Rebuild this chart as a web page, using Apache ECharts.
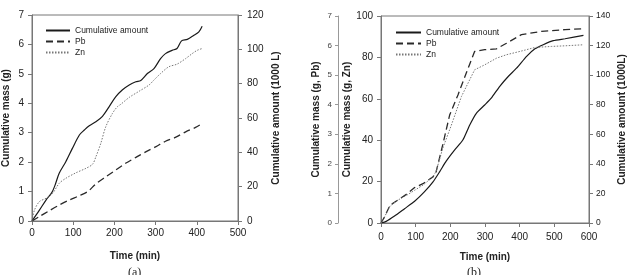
<!DOCTYPE html>
<html><head><meta charset="utf-8">
<script src="https://cdn.jsdelivr.net/npm/echarts@6/dist/echarts.min.js"></script>
<style>html,body{margin:0;padding:0;background:#fff}#c{width:632px;height:275px}</style>
</head><body><div id="c"></div>
<script>
// Panel (a)
const aAmountTime = [0,18,34,48,56,66,82,98,115,127,139,155,171,187,203,219,236,252,264,280,296,312,324,340,352,363,377,393,405,413];
const aAmountVal  = [0,6.3,12.2,16.5,20.9,27.8,34.5,42.3,50.1,53.0,55.5,57.8,61.0,66.5,72.3,76.3,79.2,81.1,81.9,85.9,88.8,94.6,97.5,99.4,100.5,104.9,105.8,108.2,110.2,113.5];
const aPbTime = [0,18,42,66,90,115,135,155,179,203,227,252,276,300,324,348,373,397,413];
const aPbVal  = [0,0.15,0.35,0.54,0.71,0.86,1.0,1.26,1.50,1.73,1.96,2.16,2.35,2.52,2.71,2.84,3.03,3.18,3.31];
const aZnTime = [0,6,18,34,50,66,82,107,131,147,155,167,179,195,207,215,236,260,284,296,312,332,352,373,389,401,413];
const aZnVal  = [0,0.37,0.66,0.77,0.94,1.28,1.45,1.64,1.79,1.93,2.18,2.64,3.2,3.65,3.88,3.96,4.20,4.41,4.62,4.79,5.01,5.24,5.33,5.52,5.69,5.80,5.86];
// Panel (b)
const bAmountTime = [0,15,39,68,97,125,150,169,188,212,236,256,275,299,318,342,367,391,420,444,468,497,531,584];
const bAmountVal  = [0,1.1,4.7,9.7,14.7,21.0,27.8,34.6,41.8,49.3,56.1,66.3,74.2,79.8,84.4,92.3,99.1,104.7,112.7,117.8,120.6,123.3,124.6,126.9];
const bPbTime = [0,10,26,48,77,97,121,150,159,178,198,222,246,270,299,333,362,405,463,531,584];
const bPbVal  = [0,0.20,0.60,0.77,1.00,1.20,1.33,1.56,1.73,2.64,3.65,4.33,5.07,5.80,5.86,5.89,6.08,6.37,6.48,6.54,6.57];
const bZnTime = [0,10,26,48,77,97,121,150,159,178,203,232,270,299,333,362,401,444,492,531,584];
const bZnVal  = [0,2.9,8.2,11.0,13.7,15.8,18.3,22.3,25.0,36.0,47.3,61.1,74.0,76.4,79.6,81.3,82.9,84.8,85.3,85.6,86.1];
const seriesNames = ['Cumulative amount','Pb','Zn'];

const zip = (t, v) => t.map((x, i) => [x, v[i]]);
const FONT = '"Liberation Sans", Arial, sans-serif';
const axisCol = '#777';
const labelStyle = (fs) => ({fontFamily: FONT, fontSize: fs, color: '#222'});
const nameStyle = {fontFamily: FONT, fontSize: 10, fontWeight: 'bold', color: '#222'};

function yAx(grid, opts) {
  return Object.assign({
    type: 'value', gridIndex: grid, splitLine: {show: false},
    axisLine: {show: true, lineStyle: {color: axisCol, width: 1}},
    axisTick: {show: true, length: 4, inside: false, lineStyle: {color: axisCol}},
    nameLocation: 'middle', nameTextStyle: nameStyle
  }, opts);
}
function xAx(grid, opts) {
  return Object.assign({
    type: 'value', gridIndex: grid, splitLine: {show: false},
    axisLine: {show: true, onZero: false, lineStyle: {color: axisCol, width: 1}},
    axisTick: {show: true, length: 4, lineStyle: {color: axisCol}},
    nameLocation: 'middle', nameTextStyle: nameStyle,
    name: 'Time (min)'
  }, opts);
}

const solid = {color: '#1a1a1a', width: 1.2, type: 'solid'};
const dashed = {color: '#2a2a2a', width: 1.3, type: [7, 4]};
const dotted = {color: '#777', width: 1, type: [1.5, 1.5]};
const legendBase = {orient: 'vertical', itemHeight: 8, itemGap: 2, padding: 0, data: seriesNames,
  itemStyle: {opacity: 0}, selectedMode: false,
  textStyle: {fontFamily: FONT, fontSize: 8.5, color: '#222'}};

const chart = echarts.init(document.getElementById('c'), null, {renderer: 'canvas'});
chart.setOption({
  animation: false,
  backgroundColor: '#fff',
  grid: [
    {left: 31, top: 15, width: 207, height: 206, show: true, borderColor: axisCol, borderWidth: 1},
    {left: 381, top: 16, width: 208, height: 207, show: true, borderColor: axisCol, borderWidth: 1}
  ],
  xAxis: [
    xAx(0, {min: 0, max: 500, interval: 100, nameGap: 30, axisLabel: Object.assign(labelStyle(10), {margin: 7})}),
    xAx(1, {min: 0, max: 600, interval: 100, nameGap: 29, axisLabel: Object.assign(labelStyle(10), {margin: 9})})
  ],
  yAxis: [
    yAx(0, {position: 'left', min: 0, max: 7, interval: 1, name: 'Cumulative mass (g)', nameGap: 21, axisLabel: Object.assign(labelStyle(10), {margin: 8})}),
    yAx(0, {position: 'right', min: 0, max: 120, interval: 20, name: 'Cumulative amount (1000 L)', nameGap: 33, axisLabel: Object.assign(labelStyle(10), {margin: 9})}),
    yAx(1, {position: 'left', min: 0, max: 100, interval: 20, name: 'Cumulative mass (g, Zn)', nameGap: 15, axisLabel: Object.assign(labelStyle(10), {margin: 8})}),
    yAx(1, {position: 'right', min: 0, max: 140, interval: 20, name: 'Cumulative amount (1000L)', nameGap: 28, axisLabel: Object.assign(labelStyle(8.5), {margin: 7})}),
    yAx(1, {position: 'left', offset: 43, min: 0, max: 7, interval: 1, name: 'Cumulative mass (g, Pb)', nameGap: 17,
      axisLine: {show: true, lineStyle: {color: '#999', width: 1}},
      axisTick: {show: true, length: 3, lineStyle: {color: '#999'}},
      axisLabel: Object.assign(labelStyle(8), {margin: 6, color: '#444'})})
  ],
  legend: [
    Object.assign({left: 45, top: 26, itemWidth: 24}, legendBase),
    Object.assign({left: 395, top: 28, itemWidth: 25}, legendBase)
  ],
  series: [
    {name: seriesNames[0], type: 'line', xAxisIndex: 0, yAxisIndex: 1, data: zip(aAmountTime, aAmountVal), showSymbol: false, symbol: 'none', smooth: 0.3, lineStyle: solid, itemStyle: {color: '#1a1a1a'}},
    {name: seriesNames[1], type: 'line', xAxisIndex: 0, yAxisIndex: 0, data: zip(aPbTime, aPbVal), showSymbol: false, symbol: 'none', smooth: 0.3, lineStyle: dashed, itemStyle: {color: '#2a2a2a'}},
    {name: seriesNames[2], type: 'line', xAxisIndex: 0, yAxisIndex: 0, data: zip(aZnTime, aZnVal), showSymbol: false, symbol: 'none', smooth: 0.3, lineStyle: dotted, itemStyle: {color: '#777'}},
    {name: seriesNames[0], type: 'line', xAxisIndex: 1, yAxisIndex: 3, data: zip(bAmountTime, bAmountVal), showSymbol: false, symbol: 'none', smooth: 0.2, lineStyle: solid, itemStyle: {color: '#1a1a1a'}},
    {name: seriesNames[1], type: 'line', xAxisIndex: 1, yAxisIndex: 4, data: zip(bPbTime, bPbVal), showSymbol: false, symbol: 'none', smooth: false, lineStyle: dashed, itemStyle: {color: '#2a2a2a'}},
    {name: seriesNames[2], type: 'line', xAxisIndex: 1, yAxisIndex: 2, data: zip(bZnTime, bZnVal), showSymbol: false, symbol: 'none', smooth: false, lineStyle: dotted, itemStyle: {color: '#777'}}
  ],
  graphic: [
    {type: 'text', left: 128, top: 267, style: {text: '(a)', font: '12px "Liberation Serif", serif', fill: '#222'}},
    {type: 'text', left: 467, top: 267, style: {text: '(b)', font: '12px "Liberation Serif", serif', fill: '#222'}}
  ]
});
</script>
</body></html>
